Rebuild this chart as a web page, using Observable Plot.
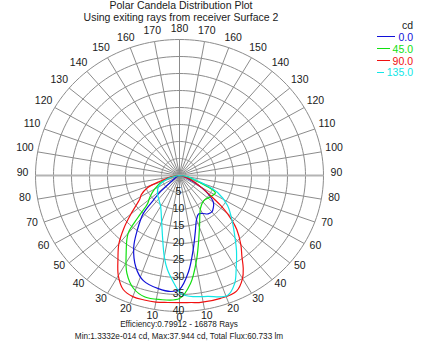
<!DOCTYPE html>
<html><head><meta charset="utf-8">
<script src="https://cdn.jsdelivr.net/npm/d3@7"></script>
<script src="https://cdn.jsdelivr.net/npm/@observablehq/plot@0.6"></script>
<style>
html,body{margin:0;padding:0;background:#fff;}
#wrap{position:relative;width:423px;height:351px;overflow:hidden;font-family:"Liberation Sans Narrow","Arial Narrow","Liberation Sans",Arial,sans-serif;font-size:10.5px;color:#1a1a1a;}
#wrap svg{position:absolute;left:0;top:0;}
.t{position:absolute;text-align:center;white-space:nowrap;line-height:11.5px;}
.cap{font-size:8.2px;line-height:12px;}
#legend{position:absolute;left:377px;top:19px;width:36px;}
#legend .h{text-align:right;height:12px;line-height:12px;}
#legend .row{display:flex;align-items:center;height:11.8px;}
#legend .ln{flex:1;height:0;border-top:1px solid;margin-right:3px;}
</style>
</head><body><div id="wrap"></div>
<script>
// ---- text ----
const titleText = "Polar Candela Distribution Plot";
const subtitleText = "Using exiting rays from receiver Surface 2";
const captionLine1 = "Efficiency:0.79912 - 16878 Rays";
const captionLine2 = "Min:1.3332e-014 cd, Max:37.944 cd, Total Flux:60.733 lm";
const legendTitle = "cd";

// ---- ticks ----
const ringTicks = [5, 10, 15, 20, 25, 30, 35, 40];
const angleTicks = [0, 10, 20, 30, 40, 50, 60, 70, 80, 90, 100, 110, 120, 130, 140, 150, 160, 170, 180];

// ---- series (angle from nadir in degrees, negative = left half; value in cd) ----
const seriesNames = ["0.0", "45.0", "90.0", "135.0"];
const seriesColors = ["#1010d8", "#10e010", "#f01010", "#10e6e6"];

const angles00 = [-90, -65, -52, -48, -45, -42, -36, -31, -24, -18, -10, -4, 0, 5, 10, 15, 20, 25, 30, 35, 40, 45, 50, 55, 60, 65, 75, 90];
const values00 = [0, 0.8, 3, 7, 10.3, 15, 20, 24.7, 29.7, 32.5, 33.8, 34.2, 33.5, 28.5, 22, 17, 13.8, 12.5, 12.9, 13.8, 14, 13.3, 12.3, 10, 7, 4, 1.5, 0];

const angles45 = [-90, -80, -70, -60, -52, -47, -43, -40, -33, -27, -21, -15, -9, 0, 5.5, 10.7, 15, 20.8, 31, 42, 54, 63, 70, 80, 90];
const values45 = [0, 2, 5, 8, 10.5, 12.1, 17, 22.2, 27.2, 32.2, 35.6, 37, 36.9, 36.2, 31.9, 25.4, 20.4, 15.7, 11.3, 10, 10.6, 11.2, 6, 2, 0];

const angles90 = [-90, -80, -72, -68, -62, -58, -50, -45, -40, -35, -30, -25, -20, -15, -10, -5, 0, 5, 9, 17.5, 25, 30, 33, 36, 40, 45, 48, 52, 55, 60, 70, 80, 90];
const values90 = [0, 2, 6, 9.6, 12, 13, 17.6, 21.8, 26.2, 29.8, 34, 37, 37.9, 37.9, 37.8, 37.5, 37.4, 37.5, 37.8, 37.9, 37.5, 35, 32.5, 29.5, 26.5, 22.5, 19.5, 15, 11, 7, 3, 1, 0];

const angles135 = [-90, -75, -62, -50, -40, -30, -20.7, -14.5, -10, -7, -3, 0, 1.3, 6, 12.3, 20.7, 25.7, 30, 35.6, 40, 46.8, 56.5, 64.7, 70, 80, 90];
const values135 = [0, 3, 6.5, 8, 9, 10.5, 14.1, 18.8, 24.3, 27.8, 31.5, 34.3, 35, 35.8, 36.4, 37.7, 35.3, 31.5, 27.2, 24, 20.2, 16, 11.7, 7, 2.5, 0];

// ---- build tables ----
const rad = a => a * Math.PI / 180;
const seriesAngles = [angles00, angles45, angles90, angles135];
const seriesValues = [values00, values45, values90, values135];
const curves = [];
seriesNames.forEach((name, i) => {
  seriesAngles[i].forEach((a, j) => curves.push({series: name, a, r: seriesValues[i][j]}));
});

const rMax = ringTicks[ringTicks.length - 1];
const ringPts = [];
for (const r of ringTicks) for (let a = 0; a <= 360; a += 2) ringPts.push({ring: r, a, r});
const spokes = [];
for (const a of angleTicks) { spokes.push({a}); if (a > 0 && a < 180) spokes.push({a: -a}); }
const angleLabels = [];
for (const a of angleTicks) { angleLabels.push({a, t: String(a)}); if (a > 0 && a < 180) angleLabels.push({a: -a, t: String(a)}); }
const labelRx = 43.6, labelRy = 42.5;

const X = d => d.r * Math.sin(rad(d.a));
const Y = d => d.r * Math.cos(rad(d.a));

const plot = Plot.plot({
  width: 423, height: 351, margin: 0,
  x: {domain: [-179 / 3.6, (423 - 179) / 3.6], range: [0, 423], axis: null},
  y: {domain: [-175 / 3.4, (351 - 175) / 3.4], range: [0, 351], axis: null},
  color: {domain: seriesNames, range: seriesColors},
  style: {fontFamily: '"Liberation Sans Narrow","Arial Narrow","Liberation Sans",Arial,sans-serif', fontSize: "10.5px", background: "#fff"},
  marks: [
    Plot.line(ringPts, {x: X, y: Y, z: "ring", stroke: "#8c8c8c", strokeWidth: 1}),
    Plot.link(spokes.filter(d => Math.abs(d.a) !== 90), {x1: 0, y1: 0, x2: d => rMax * Math.sin(rad(d.a)), y2: d => rMax * Math.cos(rad(d.a)), stroke: "#8c8c8c", strokeWidth: 1}),
    Plot.link(spokes.filter(d => Math.abs(d.a) === 90), {x1: 0, y1: 0, x2: d => rMax * Math.sin(rad(d.a)), y2: d => rMax * Math.cos(rad(d.a)), stroke: "#b4b4b4", strokeWidth: 2}),
    Plot.line(curves, {x: X, y: Y, z: "series", stroke: "series", strokeWidth: 1.2, curve: "catmull-rom"}),
    Plot.text(angleLabels, {x: d => labelRx * Math.sin(rad(d.a)), y: d => labelRy * Math.cos(rad(d.a)), text: "t", dy: -2.5, fill: "#1a1a1a"}),
    Plot.text(ringTicks, {x: 0, y: d => d, text: d => String(d), fill: "#1a1a1a", dx: -1, dy: -0.5})
  ]
});

const wrap = document.getElementById("wrap");
wrap.appendChild(plot);

const head = document.createElement("div");
head.className = "t";
head.style.cssText = "left:0;width:362px;top:0px;";
head.innerHTML = `<div>${titleText}</div><div>${subtitleText}</div>`;
wrap.appendChild(head);

const cap = document.createElement("div");
cap.className = "t cap";
cap.style.cssText = "left:0;width:358px;top:319px;";
cap.innerHTML = `<div>${captionLine1}</div><div>${captionLine2}</div>`;
wrap.appendChild(cap);

const leg = document.createElement("div");
leg.id = "legend";
leg.innerHTML = `<div class="h">${legendTitle}</div>` + seriesNames.map((n, i) =>
  `<div class="row"><span class="ln" style="border-color:${seriesColors[i]}"></span><span style="color:${seriesColors[i]}">${n}</span></div>`).join("");
wrap.appendChild(leg);
</script>
</body></html>
